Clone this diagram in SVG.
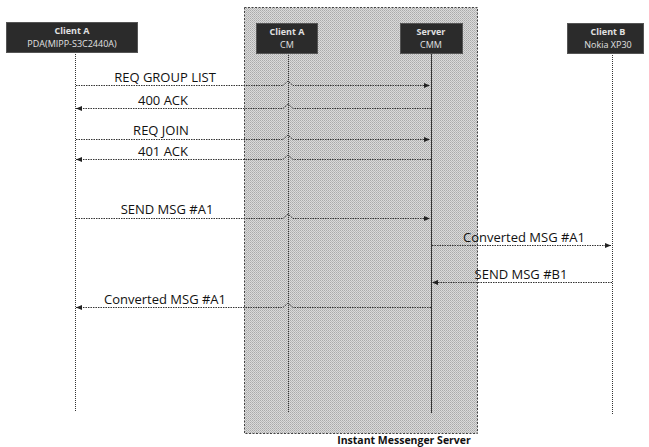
<svg xmlns="http://www.w3.org/2000/svg" width="649" height="447" viewBox="0 0 649 447">
<style>
.box{fill:#2b2b2b;stroke:#555;stroke-width:1}
.bt{font-family:"Open Sans","Liberation Sans",sans-serif;font-size:9px;fill:#e0e0e0;text-anchor:middle}
.lt{font-family:"Open Sans","Liberation Sans",sans-serif;font-size:13px;fill:#111;text-anchor:middle}
.life{stroke:#333;stroke-width:1;stroke-dasharray:1,1;fill:none}
.msg{stroke:#333;stroke-width:1;stroke-dasharray:1.5,1;fill:none}
</style>
<defs>
<marker id="ah" viewBox="0 0 6 6" refX="6" refY="3" markerWidth="6" markerHeight="6" orient="auto" markerUnits="userSpaceOnUse">
<path d="M0,0.5 L6,3 L0,5.5 Z" fill="#222"/>
</marker>
<pattern id="dith" width="2" height="2" patternUnits="userSpaceOnUse">
<rect width="2" height="2" fill="#dadada"/>
<rect width="1" height="1" fill="#aaaaaa"/>
<rect x="1" y="1" width="1" height="1" fill="#bababa"/>
</pattern>
</defs>
<rect width="649" height="447" fill="#fff"/>
<g id="server-region">
<rect x="244.5" y="7.5" width="233" height="426" fill="url(#dith)" stroke="#444" stroke-dasharray="2,1.5"/>
<text x="404" y="444" font-family="'Open Sans','Liberation Sans',sans-serif" font-size="10.5" font-weight="bold" fill="#111" text-anchor="middle">Instant Messenger  Server</text>
</g>
<g id="lifelines">
<line class="life" x1="75.5" y1="52" x2="75.5" y2="412"/>
<line class="life" x1="288.5" y1="53" x2="288.5" y2="412"/>
<line x1="431.5" y1="53" x2="431.5" y2="413" stroke="#333" stroke-width="1"/>
<line class="life" x1="612.5" y1="53" x2="612.5" y2="415"/>
</g>
<g id="clientA">
<rect class="box" x="6.5" y="22.5" width="131" height="30"/>
<text class="bt" x="72" y="34" font-weight="bold">Client A</text>
<text class="bt" x="72" y="47">PDA(MIPP-S3C2440A)</text>
</g>
<g id="clientA-cm">
<rect class="box" x="256.5" y="23.5" width="61" height="30"/>
<text class="bt" x="287" y="35" font-weight="bold">Client A</text>
<text class="bt" x="287" y="48">CM</text>
</g>
<g id="server-cmm">
<rect class="box" x="400.5" y="23.5" width="62" height="30"/>
<text class="bt" x="431" y="35" font-weight="bold">Server</text>
<text class="bt" x="431" y="48">CMM</text>
</g>
<g id="clientB">
<rect class="box" x="567.5" y="23.5" width="76" height="30"/>
<text class="bt" x="608" y="35" font-weight="bold">Client B</text>
<text class="bt" x="608" y="48">Nokia XP30</text>
</g>
<g id="connectors">
<path class="msg" d="M76,85.5 H283 L288,81 L293,85.5 H430" marker-end="url(#ah)"/>
<path class="msg" d="M431,108.5 H293 L288,104 L283,108.5 H76" marker-end="url(#ah)"/>
<path class="msg" d="M76,139.5 H283 L288,135 L293,139.5 H430" marker-end="url(#ah)"/>
<path class="msg" d="M431,159.5 H293 L288,155 L283,159.5 H76" marker-end="url(#ah)"/>
<path class="msg" d="M76,218.5 H283 L288,214 L293,218.5 H430" marker-end="url(#ah)"/>
<path class="msg" d="M432,245.5 H611" marker-end="url(#ah)"/>
<path class="msg" d="M612,282.5 H432" marker-end="url(#ah)"/>
<path class="msg" d="M431,307.5 H293 L288,303 L283,307.5 H76" marker-end="url(#ah)"/>
</g>
<g id="labels">
<text class="lt" x="165" y="82">REQ GROUP LIST</text>
<text class="lt" x="163" y="105">400 ACK</text>
<text class="lt" x="161" y="135">REQ JOIN</text>
<text class="lt" x="163" y="156">401 ACK</text>
<text class="lt" x="167" y="214">SEND MSG #A1</text>
<text class="lt" x="524" y="242">Converted MSG #A1</text>
<text class="lt" x="521" y="279">SEND MSG #B1</text>
<text class="lt" x="165" y="304">Converted MSG #A1</text>
</g>
</svg>
